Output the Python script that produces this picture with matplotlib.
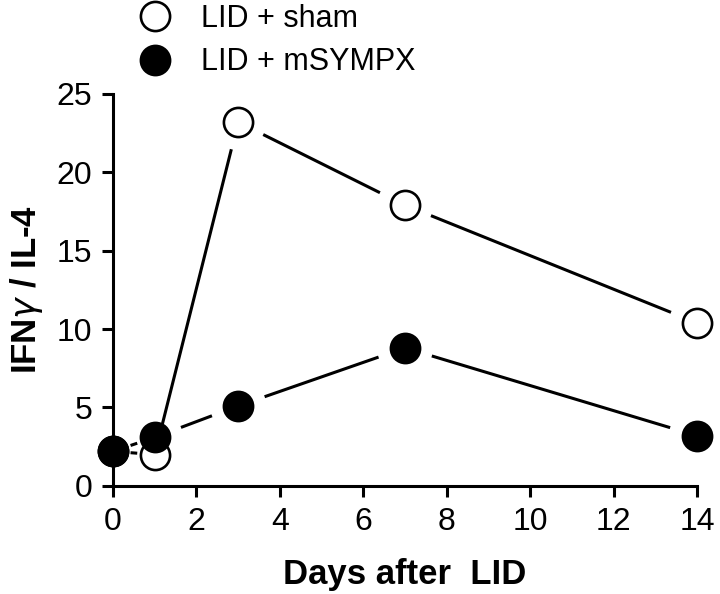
import numpy as np
import matplotlib
matplotlib.use("Agg")
import matplotlib.pyplot as plt
from matplotlib.lines import Line2D

plt.rcParams['font.family'] = ['Liberation Sans', 'DejaVu Sans']

# Data
days = [0, 1, 3, 7, 14]
sham = [2.2, 2.0, 23.2, 17.9, 10.4]
sympx = [2.2, 3.1, 5.1, 8.8, 3.2]
labels = ["LID + sham", "LID + mSYMPX"]

fig = plt.figure(figsize=(7.2, 5.94), dpi=100)
ax = fig.add_axes([0.157, 0.182, 0.811, 0.660])
ax.set_xlim(0, 14)
ax.set_ylim(0, 25)


def gapped_line(x, y, gap_px=28, lw=2.2):
    # draw segments between points, leaving a gap around each marker
    fig.canvas.draw()
    pts = ax.transData.transform(np.column_stack([x, y]))
    inv = ax.transData.inverted()
    for p0, p1 in zip(pts[:-1], pts[1:]):
        d = p1 - p0
        length = np.hypot(*d)
        g = min(gap_px, 0.42 * length)
        u = d / length
        a = inv.transform(p0 + u * g)
        b = inv.transform(p1 - u * g)
        ax.plot([a[0], b[0]], [a[1], b[1]], color='black', lw=lw,
                solid_capstyle='butt', clip_on=False)


gapped_line(days, sham)
gapped_line(days, sympx)

ax.plot(days, sham, 'o', ms=21, mfc='white', mec='black', mew=1.9,
        clip_on=False, zorder=3)
ax.plot(days, sympx, 'o', ms=21, mfc='black', mec='black', mew=1.9,
        clip_on=False, zorder=4)

ax.spines['top'].set_visible(False)
ax.spines['right'].set_visible(False)
for s in ['left', 'bottom']:
    ax.spines[s].set_linewidth(2.2)
ax.set_xticks(range(0, 15, 2))
ax.set_yticks(range(0, 26, 5))
ax.tick_params(width=2.2, length=8, labelsize=23, pad=7)

ax.set_xlabel("Days after  LID", fontsize=25, fontweight='bold', labelpad=15)
ax.set_ylabel(r"IFN$\gamma$ / IL-4", fontsize=25, fontweight='bold', labelpad=8)

handles = [
    Line2D([], [], ls='none', marker='o', ms=21, mfc='white', mec='black', mew=1.9),
    Line2D([], [], ls='none', marker='o', ms=21, mfc='black', mec='black', mew=1.9),
]
fig.legend(handles, labels, loc='upper left', bbox_to_anchor=(0.152, 1.04),
           frameon=False, fontsize=22, handlelength=1.2, handletextpad=0.9,
           labelspacing=0.45)

fig.savefig("out.png", dpi=100)
